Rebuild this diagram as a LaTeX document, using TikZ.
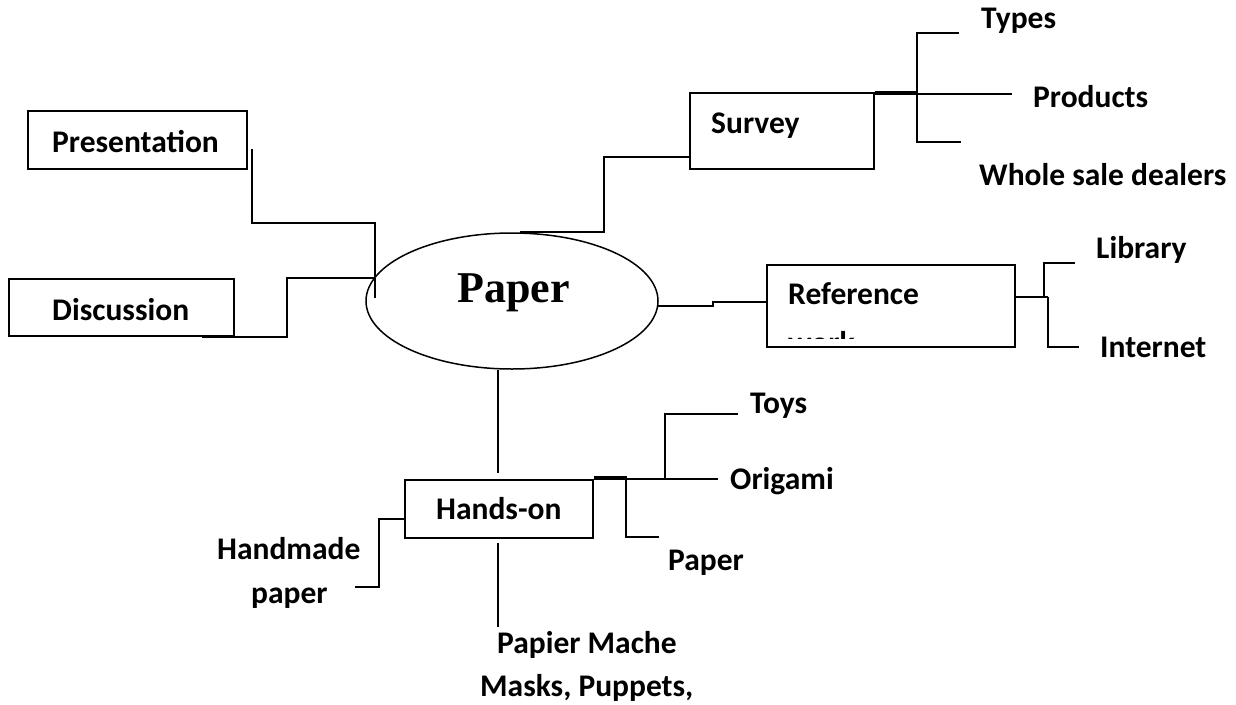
\documentclass[tikz,border=0pt]{standalone}
\usepackage{fontspec}
\setmainfont{Carlito}
\newfontfamily\paperserif{Liberation Serif}
\usetikzlibrary{shapes.geometric}
\tikzset{
  box/.style={draw, line width=1.8pt, rectangle, inner sep=0pt, anchor=north west},
  hub/.style={draw, line width=1.5pt, ellipse, inner sep=0pt},
  conn/.style={line width=1.6pt},
  lbl/.style={font=\fontsize{31.5}{37}\selectfont\bfseries, inner sep=0pt, anchor=base west},
  hublbl/.style={font=\fontsize{44}{50}\selectfont\paperserif\bfseries, inner sep=0pt, anchor=base west},
}
\begin{document}
\begin{tikzpicture}[x=1pt,y=-1pt]
\useasboundingbox (0,0) rectangle (1236,704);
% central ellipse
\node[hub, minimum width=292pt, minimum height=136pt] (hub) at (512,301) {};
\node[hublbl] (hubt) at (457,302) {Paper};
% boxes
\node[box, minimum width=219pt, minimum height=58pt] (pres) at (27,110) {};
\node[lbl] (prest) at (52,152) {Presentation};
\node[box, minimum width=225pt, minimum height=57pt] (disc) at (8,278) {};
\node[lbl] (disct) at (52,320) {Discussion};
\node[box, minimum width=184pt, minimum height=76pt] (survey) at (689,92) {};
\node[lbl] (surveyt) at (711,133) {Survey};
\node[box, minimum width=248pt, minimum height=82pt] (ref) at (766,264) {};
\node[lbl] (reft) at (788,304) {Reference};
\begin{scope}
  \clip (766,264) rectangle (1014,338);
  \node[lbl] (refw) at (788,353) {work};
\end{scope}
\node[box, minimum width=188pt, minimum height=58pt] (hands) at (404,479) {};
\node[lbl] (handst) at (436,519) {Hands-on};
% leaf labels
\node[lbl] (types) at (981,28) {Types};
\node[lbl] (products) at (1033,107) {Products};
\node[lbl] (whole) at (979,185) {Whole sale dealers};
\node[lbl] (library) at (1096,258) {Library};
\node[lbl] (internet) at (1100,357) {Internet};
\node[lbl] (toys) at (750,413) {Toys};
\node[lbl] (origami) at (730,489) {Origami};
\node[lbl] (paper2) at (668,570) {Paper};
\node[lbl] (handmade) at (217,559) {Handmade};
\node[lbl] (handmade2) at (251,603) {paper};
\node[lbl] (papier) at (497,653) {Papier Mache};
\node[lbl] (masks) at (480,696) {Masks, Puppets,};
% connectors: left side
\draw[conn] ([xshift=4pt,yshift=-9pt]pres.east) |- (375,223) -- (375,298);
\draw[conn] ([xshift=-33pt]disc.south east) -| (287,278) -- (375,278);
% survey
\draw[conn] ([xshift=8pt]hub.north) -| (604,157) -- (survey.west |- 604,157);
\draw[conn] (survey.north east) -- (917,92);
\draw[conn] ([yshift=-2pt]survey.north east) -- (1012,94);
\draw[conn] (959,33) -| (917,142) -- (961,142);
% reference
\draw[conn] (658,306) -- (713,306) -- (713,302) -- (ref.west |- 713,302);
\draw[conn] (ref.east |- 1014,297) -- (1048,297);
\draw[conn] (1044,297) |- (1075,263);
\draw[conn] (1048,297) |- (1079,347);
% hands-on
\draw[conn] ([xshift=-14pt]hub.south) -- (498,473);
\draw[conn] (498,543) -- (498,627);
\draw[conn] (hands.west |- 404,519) -| (379,587) -- (355,587);
\draw[conn] ([yshift=2pt]hands.north east) -- (626,477) -- (626,537) -- (659,537);
\draw[conn] (hands.north east) -- (718,479);
\draw[conn] (665,479) |- (738,414);
\end{tikzpicture}
\end{document}
